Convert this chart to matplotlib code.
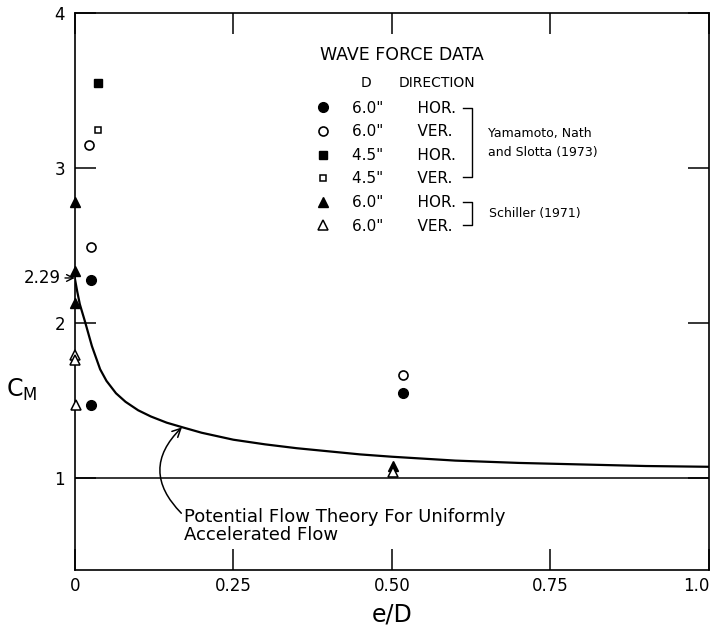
import matplotlib
matplotlib.use('Agg')
import matplotlib.pyplot as plt

plt.rcParams['font.family'] = ['DejaVu Sans']

# potential flow theory curve
theoryX = [0.0, 0.004, 0.008, 0.016, 0.027, 0.04, 0.05, 0.065, 0.08, 0.10, 0.12, 0.145,
           0.17, 0.20, 0.25, 0.30, 0.35, 0.40, 0.45, 0.50, 0.60, 0.70, 0.80, 0.90, 1.00]
theoryCm = [2.29, 2.20, 2.12, 2.01, 1.85, 1.70, 1.625, 1.545, 1.49, 1.435, 1.395, 1.355,
            1.325, 1.29, 1.245, 1.215, 1.19, 1.17, 1.15, 1.135, 1.11, 1.095, 1.085, 1.075, 1.07]

# Yamamoto, Nath and Slotta (1973)
yamHor6X, yamHor6Y = [0.026, 0.026, 0.518], [2.28, 1.47, 1.545]
yamVer6X, yamVer6Y = [0.023, 0.025, 0.517], [3.15, 2.49, 1.665]
yamHor45X, yamHor45Y = [0.037], [3.55]
yamVer45X, yamVer45Y = [0.037], [3.245]
# Schiller (1971)
schHor6X, schHor6Y = [0.0, 0.0, 0.0, 0.501], [2.78, 2.335, 2.13, 1.075]
schVer6X, schVer6Y = [0.0, 0.0, 0.002, 0.501], [1.79, 1.76, 1.47, 1.035]

legendD = ['6.0"', '6.0"', '4.5"', '4.5"', '6.0"', '6.0"']
legendDir = ['HOR.', 'VER.', 'HOR.', 'VER.', 'HOR.', 'VER.']

xTicks = [0, 0.25, 0.5, 0.75, 1.0]
xTickLabels = ['0', '0.25', '0.50', '0.75', '1.0']
yTicks = [1, 2, 3, 4]
yTickLabels = ['1', '2', '3', '4']

fig = plt.figure(figsize=(7.21, 6.31), dpi=100)
ax = fig.add_axes([0.1037, 0.0959, 0.8797, 0.883])

ax.plot(theoryX, theoryCm, color='black', lw=1.6)
ax.axhline(1.0, color='black', lw=1.1)

k = dict(linestyle='none', color='black', clip_on=False, zorder=4)
h1, = ax.plot(yamHor6X, yamHor6Y, marker='o', ms=7, **k)
h2, = ax.plot(yamVer6X, yamVer6Y, marker='o', ms=6.5, mfc='white', mew=1.2, **k)
h3, = ax.plot(yamHor45X, yamHor45Y, marker='s', ms=5.5, **k)
h4, = ax.plot(yamVer45X, yamVer45Y, marker='s', ms=5, mfc='white', mew=1.1, **k)
h5, = ax.plot(schHor6X, schHor6Y, marker='^', ms=7, **k)
h6, = ax.plot(schVer6X, schVer6Y, marker='^', ms=7, mfc='white', mew=1.1, **k)

labels = [f'{d}       {r}' for d, r in zip(legendD, legendDir)]
ax.legend([h1, h2, h3, h4, h5, h6], labels, loc='upper left', bbox_to_anchor=(0.3795, 0.843),
          frameon=False, borderpad=0, borderaxespad=0, handlelength=1.0, handletextpad=1.4,
          labelspacing=0.56, fontsize=11)

ax.text(0.387, 3.73, 'WAVE FORCE DATA', fontsize=12.5, ha='left', va='center')
ax.text(0.459, 3.548, 'D', fontsize=10, ha='center', va='center')
ax.text(0.51, 3.548, 'DIRECTION', fontsize=10, ha='left', va='center')

# brackets grouping the sources
ax.plot([0.612, 0.6265, 0.6265, 0.612], [3.387, 3.387, 2.94, 2.94], color='black', lw=1)
ax.plot([0.612, 0.6265, 0.6265, 0.612], [2.778, 2.778, 2.63, 2.63], color='black', lw=1)
ax.text(0.652, 3.16, 'Yamamoto, Nath\nand Slotta (1973)', fontsize=9, ha='left', va='center',
        linespacing=1.6)
ax.text(0.653, 2.706, 'Schiller (1971)', fontsize=9, ha='left', va='center')

ax.annotate('2.29', xy=(0, 2.29), xytext=(-0.022, 2.29), ha='right', va='center', fontsize=12,
            annotation_clip=False,
            arrowprops=dict(arrowstyle='->,head_length=0.4,head_width=0.2', lw=1, shrinkA=1, shrinkB=0))

ax.annotate('', xy=(0.169, 1.325), xytext=(0.168, 0.77),
            arrowprops=dict(arrowstyle='->,head_length=0.6,head_width=0.3', lw=1.1,
                            connectionstyle='arc3,rad=-0.5', shrinkA=0, shrinkB=0))
ax.text(0.1715, 0.686, 'Potential Flow Theory For Uniformly\nAccelerated Flow', fontsize=13,
        ha='left', va='center', linespacing=1.0)

ax.set_xlim(0, 1.0)
ax.set_ylim(0.4, 4.0)
ax.set_xticks(xTicks)
ax.set_xticklabels(xTickLabels)
ax.set_yticks(yTicks)
ax.set_yticklabels(yTickLabels)
ax.tick_params(direction='in', length=15, width=1.1, labelsize=12, top=True, right=True)
ax.tick_params(axis='x', pad=5)
ax.tick_params(axis='y', pad=7)
ax.get_xticklabels()[-1].set_horizontalalignment('right')
for s in ax.spines.values():
    s.set_linewidth(1.2)

ax.set_xlabel('e/D', fontsize=17, labelpad=5)
fig.text(6 / 721, 1 - 390 / 631, r'$\mathregular{C_M}$', fontsize=17, ha='left', va='center')

fig.savefig('out.png', dpi=100)
